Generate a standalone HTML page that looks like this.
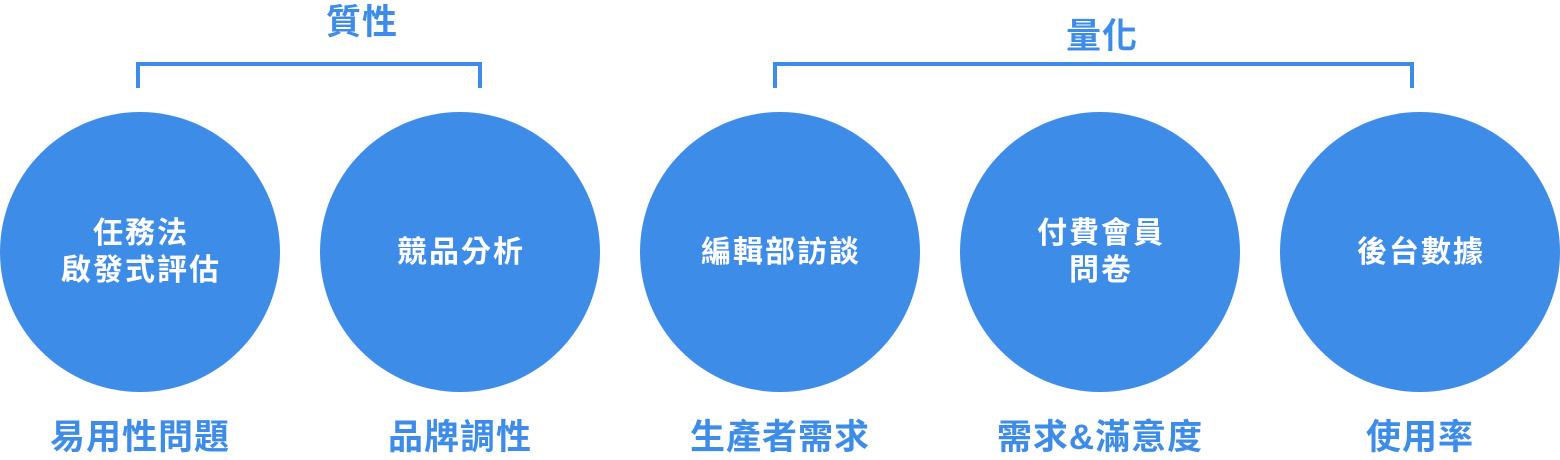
<!DOCTYPE html>
<html><head><meta charset="utf-8"><style>
body{margin:0;width:1560px;height:460px;background:#fff;position:relative;overflow:hidden;font-family:"Liberation Sans","Noto Sans CJK TC",sans-serif;font-weight:bold}
.c{position:absolute;width:280px;height:280px;border-radius:50%;background:#3d8ce8;top:112px;display:flex;align-items:center;justify-content:center;text-align:center;color:#fff;font-size:30px;letter-spacing:2px;line-height:37px}
.c span{margin-right:-2px}
.l{position:absolute;width:320px;text-align:center;color:#3d8ce8;font-size:35px;letter-spacing:1px;line-height:40px}
.b{position:absolute;border:4px solid #3d8ce8;border-bottom:none;height:22px;top:62px;box-sizing:content-box}
</style></head><body>
<div class="l" style="left:202px;top:3px">質性</div>
<div class="l" style="left:942px;top:17px">量化</div>
<div class="b" style="left:136px;width:338px"></div>
<div class="b" style="left:773px;width:633px"></div>
<div class="c" style="left:0"><span>任務法<br>啟發式評估</span></div>
<div class="c" style="left:320px"><span>競品分析</span></div>
<div class="c" style="left:640px"><span>編輯部訪談</span></div>
<div class="c" style="left:960px"><span>付費會員<br>問卷</span></div>
<div class="c" style="left:1280px"><span>後台數據</span></div>
<div class="l" style="left:-20px;top:418px">易用性問題</div>
<div class="l" style="left:300px;top:418px">品牌調性</div>
<div class="l" style="left:620px;top:418px">生產者需求</div>
<div class="l" style="left:940px;top:418px">需求&amp;滿意度</div>
<div class="l" style="left:1260px;top:418px">使用率</div>
</body></html>
